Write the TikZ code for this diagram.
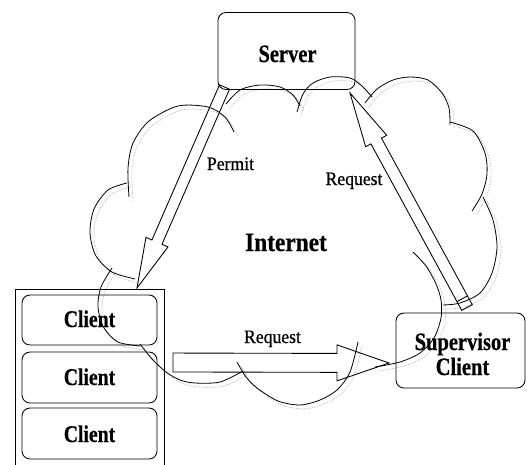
\documentclass[tikz,border=0pt]{standalone}
\usepackage{fontspec}
\setmainfont{Liberation Serif}
\newfontfamily\boxserif[FakeStretch=0.82, FakeBold=0.6]{Liberation Serif}
\newfontfamily\netserif[FakeStretch=0.88, FakeBold=0.6]{Liberation Serif}
\newfontfamily\tagserif[FakeStretch=0.93, FakeBold=0.7]{Liberation Serif}
\usetikzlibrary{calc}

% hollow block arrow: #1 tail, #2 tip, #3 shaft half width, #4 head half width, #5 head length
\newcommand\hollowarrow[5]{%
  \coordinate (#1-#2-base) at ($(#2)!#5!(#1)$);
  \draw[arrowline] ($(#1)!#3!90:(#2)$) -- ($(#1-#2-base)!#3!90:(#2)$)
    -- ($(#1-#2-base)!#4!90:(#2)$) -- (#2) -- ($(#1-#2-base)!#4!-90:(#2)$)
    -- ($(#1-#2-base)!#3!-90:(#2)$) -- ($(#1)!#3!-90:(#2)$) -- cycle;
}

% the lobes of the internet cloud
\newcommand\cloudlobes{%
  \draw plot[smooth] coordinates {(129,197) (128,168) (133,143) (149,121) (178,106) (208,107) (225,117) (234,132)};
  \draw plot[smooth] coordinates {(127,183) (108,190) (94,209) (90,233) (96,256) (112,272) (135,279)};
  \draw plot[smooth] coordinates {(112,268) (101,287) (98,307) (104,328) (118,342) (140,346)};
  \draw plot[smooth] coordinates {(140,344) (152,359) (166,372) (180,380) (195,383) (220,382) (243,371)};
  \draw plot[smooth] coordinates {(237,362) (246,377) (257,388) (278,401) (300,405) (320,400) (337,390) (350,372) (358,342)};
  \draw plot[smooth] coordinates {(375,367) (400,362) (420,353) (434,338) (441,318) (441,300) (436,284) (426,266) (413,252)};
  \draw plot[smooth] coordinates {(483,197) (493,220) (497,247) (492,273) (480,293) (460,303) (443,305)};
  \draw plot[smooth] coordinates {(450,122) (473,131) (485,153) (487,174) (482,194) (472,211)};
  \draw plot[smooth] coordinates {(365,103) (377,89) (393,80) (410,77) (428,80) (442,93) (449,108) (450,125)};
  \draw plot[smooth] coordinates {(297,112) (303,94) (313,83) (330,77) (350,78) (362,86) (372,97)};
  \draw plot[smooth] coordinates {(226,104) (240,90) (260,85) (280,87) (293,95) (300,106)};
}

\tikzset{
  box/.style={draw, line width=0.65pt, rounded corners=6pt, inner sep=0pt},
  bigtext/.style={anchor=base, inner sep=0pt, font=\boxserif\bfseries\fontsize{18.75pt}{18.75pt}\selectfont},
  clienttext/.style={anchor=base, inner sep=0pt, font=\boxserif\bfseries\fontsize{18pt}{18pt}\selectfont},
  nettext/.style={anchor=base, inner sep=0pt, font=\netserif\bfseries\fontsize{19.9pt}{19.9pt}\selectfont},
  tagtext/.style={anchor=base, inner sep=0pt, font=\tagserif\fontsize{14.25pt}{14.25pt}\selectfont},
  arrowline/.style={draw, line width=0.65pt, line join=miter},
  cloudline/.style={line width=0.6pt},
  cloudshadow/.style={gray!55, line width=0.5pt, dash pattern=on 1pt off 1pt}
}

\begin{document}
\begin{tikzpicture}[x=0.75pt, y=-0.75pt]
\useasboundingbox (0,0) rectangle (527,464);

% soft shadow of the cloud
\begin{scope}[shift={(4,4)}, cloudshadow]
  \cloudlobes
\end{scope}

% server
\node[box, minimum width=102.75pt, minimum height=57.75pt] (server) at (286.5,51) {};
\node[bigtext] (servertext) at (287.5,62) {Server};

% stack of clients
\coordinate (stackBL) at (15,466);
\coordinate (stackTL) at (15,289);
\coordinate (stackTR) at (164,289);
\coordinate (stackBR) at (164,466);
\draw[line width=0.65pt] (stackBL) -- (stackTL) -- (stackTR) -- (stackBR);
\node[box, minimum width=101.25pt, minimum height=37.5pt] (client1) at (89.5,320) {};
\node[box, minimum width=101.25pt, minimum height=38.25pt] (client2) at (89.5,377.5) {};
\node[box, minimum width=101.25pt, minimum height=38.25pt] (client3) at (89.5,433.5) {};
\node[clienttext] (client1text) at (89.5,327) {Client};
\node[clienttext] (client2text) at (89.5,385) {Client};
\node[clienttext] (client3text) at (89.5,442) {Client};

% supervisor client
\node[box, minimum width=96.75pt, minimum height=56.25pt] (supervisor) at (460.5,350.5) {};
\node[bigtext] (supervisortext) at (462.5,350) {Supervisor};
\node[bigtext] (supervisorclient) at (462.5,375) {Client};

% cloud outline
\begin{scope}[cloudline]
  \cloudlobes
\end{scope}
\node[nettext] (internet) at (286,251) {Internet};

% permit: server to client
\coordinate (permitTail) at (224.5,87);
\coordinate (permitTip) at (137,288);
\hollowarrow{permitTail}{permitTip}{4.1pt}{9pt}{37.5pt}
\node[tagtext] (permit) at (230.5,170) {Permit};

% request: supervisor to server
\coordinate (reqTail) at (467,307.5);
\coordinate (reqTip) at (350,93);
\hollowarrow{reqTail}{reqTip}{4.5pt}{9pt}{41pt}
\coordinate (reqCap) at ($(reqTail)!7.5pt!(reqTip)$);
\draw[arrowline] ($(reqCap)!4.5pt!90:(reqTip)$) -- ($(reqCap)!4.5pt!-90:(reqTip)$);
\node[tagtext] (request1) at (354,185) {Request};

% request: client to supervisor
\coordinate (req2Tail) at (173,362.5);
\coordinate (req2Tip) at (389,363);
\hollowarrow{req2Tail}{req2Tip}{7.1pt}{13.5pt}{39pt}
\node[tagtext] (request2) at (272.5,343) {Request};
\end{tikzpicture}
\end{document}
